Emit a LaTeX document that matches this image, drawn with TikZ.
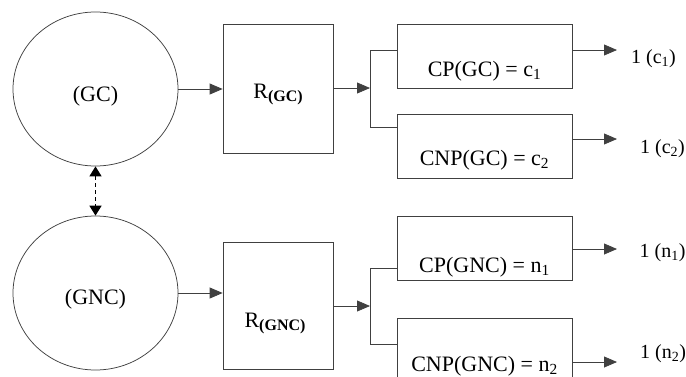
\documentclass[tikz,border=0pt]{standalone}
\usepackage{fontspec}
\setmainfont{Liberation Serif}
\usetikzlibrary{shapes.geometric,arrows.meta}
\newcommand\rsubtxt[1]{\raisebox{-3pt}{\fontsize{16}{18}\selectfont\bfseries #1}}
\begin{document}
\begin{tikzpicture}[x=1pt,y=-1pt,
  line/.style={draw=black!75,line width=0.75pt},
  arr/.style={line,-{Triangle[length=13pt,width=11pt]}},
  circ/.style={ellipse,line,minimum width=165pt,minimum height=154pt,inner sep=0pt},
  rbox/.style={rectangle,line,minimum width=110pt,inner sep=0pt},
  cbox/.style={rectangle,line,minimum width=175pt,minimum height=64pt,inner sep=0pt},
  txt/.style={anchor=base,inner sep=0pt,font=\fontsize{22}{26}\selectfont},
  lbl/.style={anchor=base,inner sep=0pt,font=\fontsize{20}{24}\selectfont}]
\clip (0,0) rectangle (686,376);
% circles
\node[circ] (gc) at (95.5,89) {};
\node[circ] (gnc) at (95.5,293) {};
\node[txt] (gct) at (95.5,101) {(GC)};
\node[txt] (gnct) at (95.5,304) {(GNC)};
% R boxes
\node[rbox,minimum height=129pt] (rgc) at (278,88.5) {};
\node[rbox,minimum height=127pt] (rgnc) at (278,305.5) {};
\node[txt] (rgct) at (278,98) {R\rsubtxt{(GC)}};
\node[txt] (rgnct) at (275,327) {R\rsubtxt{(GNC)}};
% C boxes
\node[cbox] (cpgc) at (484.5,56) {};
\node[cbox] (cnpgc) at (484.5,146) {};
\node[cbox] (cpgnc) at (484.5,248) {};
\node[cbox] (cnpgnc) at (484.5,350) {};
\node[txt] (cpgct) at (484.5,76) {CP(GC) = c\textsubscript{1}};
\node[txt] (cnpgct) at (484.5,165) {CNP(GC) = c\textsubscript{2}};
\node[txt] (cpgnct) at (484.5,272) {CP(GNC) = n\textsubscript{1}};
\node[txt] (cnpgnct) at (484.5,371) {CNP(GNC) = n\textsubscript{2}};
% labels
\node[lbl] (l1) at (653.5,63) {1 (c\textsubscript{1})};
\node[lbl] (l2) at (662.5,153) {1 (c\textsubscript{2})};
\node[lbl] (l3) at (662.5,257) {1 (n\textsubscript{1})};
\node[lbl] (l4) at (663,358) {1 (n\textsubscript{2})};
% junction coordinates
\coordinate (j1) at (370,88);
\coordinate (j1a) at (370,50);
\coordinate (j1b) at (370,127);
\coordinate (j2) at (370,306);
\coordinate (j2a) at (370,268);
\coordinate (j2b) at (370,344);
\coordinate (o1) at (617,50);
\coordinate (o2) at (617,139);
\coordinate (o3) at (617,249);
\coordinate (o4) at (617,362);
% connectors
\draw[arr] (gc.east) -- (gc.east -| rgc.west);
\draw[arr] (gnc.east) -- (gnc.east -| rgnc.west);
\draw[arr] (rgc.east |- j1) -- (j1);
\draw[arr] (rgnc.east |- j2) -- (j2);
\draw[line] (cpgc.west |- j1a) -- (j1a) -- (j1b) -- (cnpgc.west |- j1b);
\draw[line] (cpgnc.west |- j2a) -- (j2a) -- (j2b) -- (cnpgnc.west |- j2b);
\draw[arr] (cpgc.east |- o1) -- (o1);
\draw[arr] (cnpgc.east |- o2) -- (o2);
\draw[arr] (cpgnc.east |- o3) -- (o3);
\draw[arr] (cnpgnc.east |- o4) -- (o4);
\draw[draw=black,line width=1.5pt,dash pattern=on 4pt off 3pt,{Triangle[length=10pt,width=12pt]}-{Triangle[length=10pt,width=12pt]}] (gc.south) -- (gnc.north);
\end{tikzpicture}
\end{document}
